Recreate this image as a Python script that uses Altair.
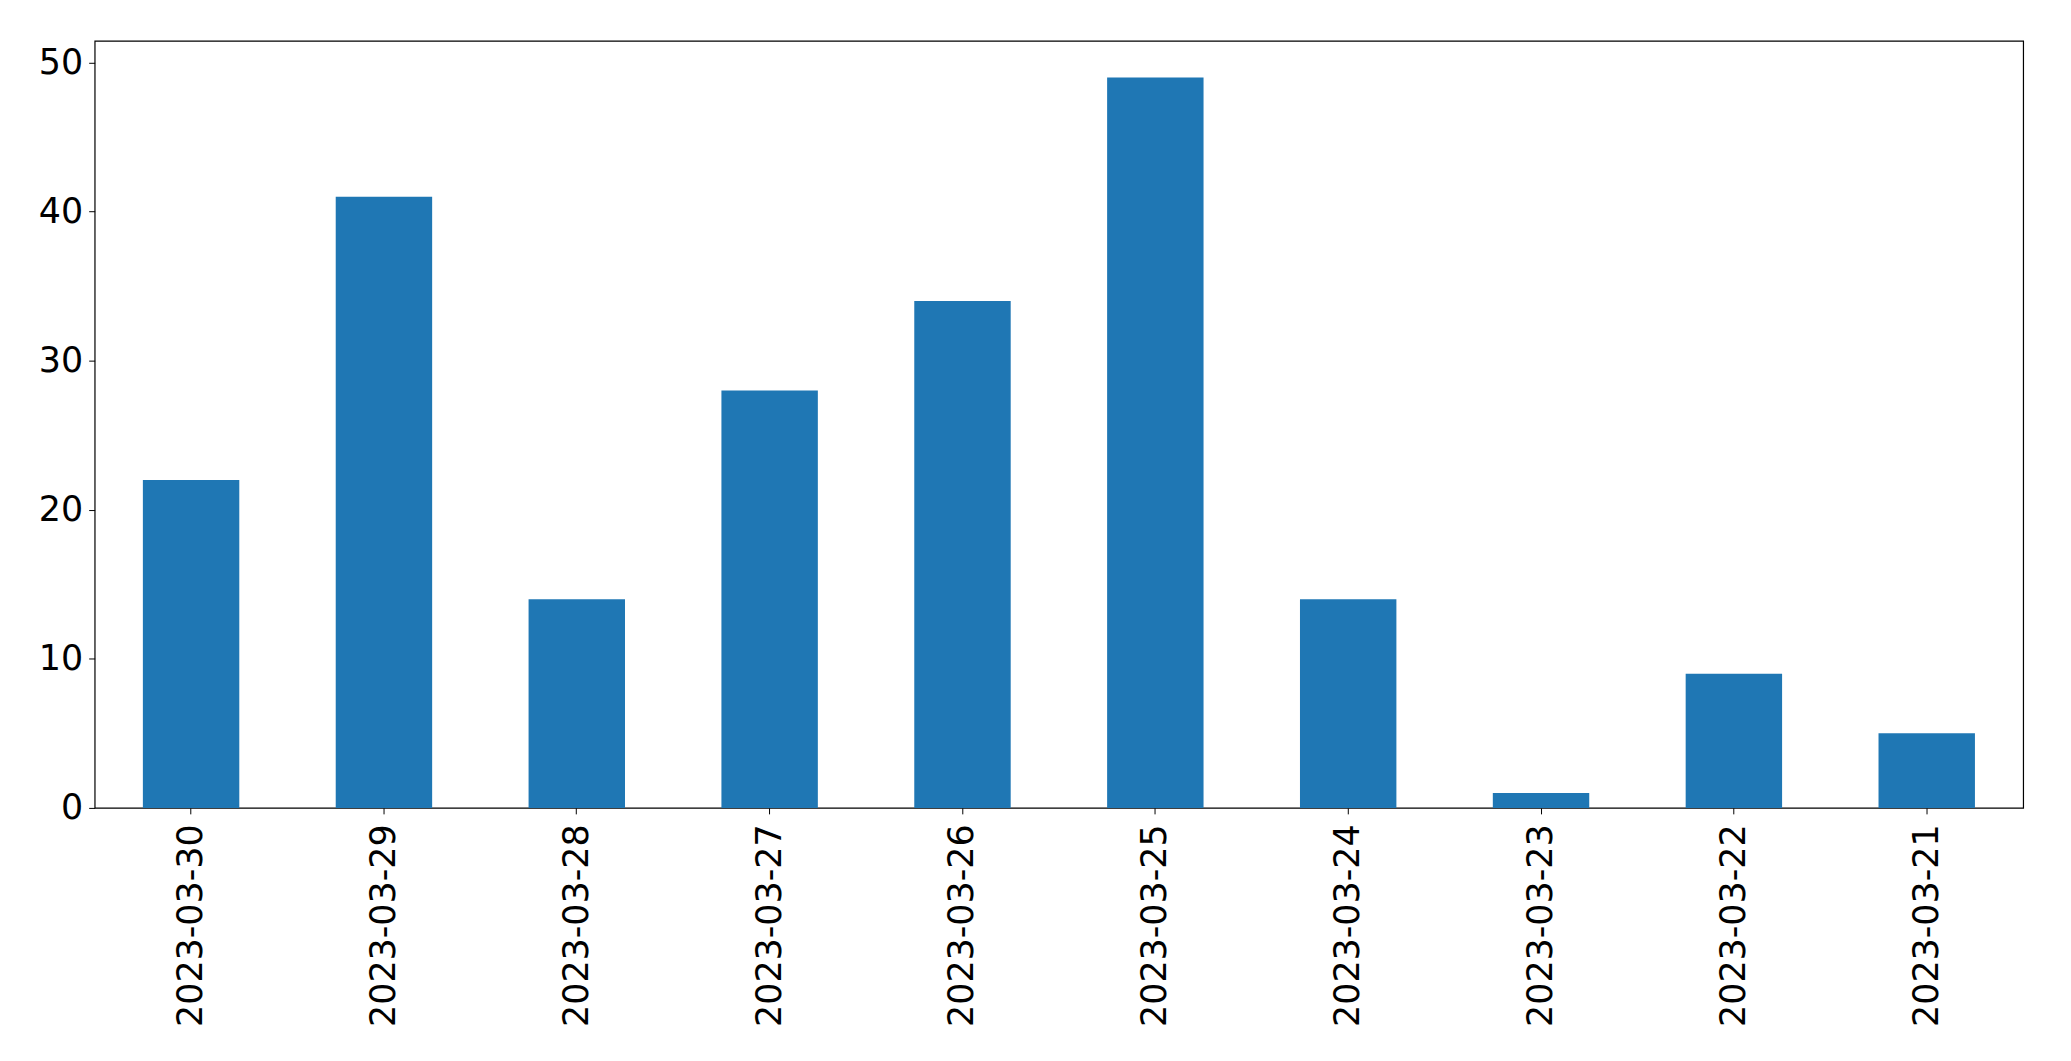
import altair as alt
import pandas as pd

dates = ["2023-03-30", "2023-03-29", "2023-03-28", "2023-03-27", "2023-03-26",
         "2023-03-25", "2023-03-24", "2023-03-23", "2023-03-22", "2023-03-21"]
counts = [22, 41, 14, 28, 34, 49, 14, 1, 9, 5]

df = pd.DataFrame({"date": dates, "count": counts})

FONT = "DejaVu Sans"

chart = alt.Chart(df).mark_bar(color="#1f77b4").encode(
    x=alt.X("date:N", sort=None, title=None,
            scale=alt.Scale(paddingInner=0.5, paddingOuter=0.25),
            axis=alt.Axis(labelAngle=-90, labelFont=FONT, labelFontSize=35,
                          labelColor="black", tickColor="black", tickSize=6,
                          tickWidth=1, labelPadding=10, domain=False,
                          labelOverlap=False, labelLimit=0)),
    y=alt.Y("count:Q", title=None,
            scale=alt.Scale(domain=[0, 51.45], nice=False, zero=True),
            axis=alt.Axis(values=[0, 10, 20, 30, 40, 50], labelFont=FONT,
                          labelFontSize=35, labelColor="black", tickColor="black",
                          tickSize=6, tickWidth=1, labelPadding=6, domain=False,
                          grid=False)),
).properties(
    width=1936,
    height=770,
    autosize=alt.AutoSizeParams(type="none"),
    padding={"left": 87, "top": 31, "right": 40, "bottom": 230},
).configure_view(
    stroke="black", strokeWidth=1.2
)

chart.save("out.html", embed_options={"renderer": "svg", "actions": False})
